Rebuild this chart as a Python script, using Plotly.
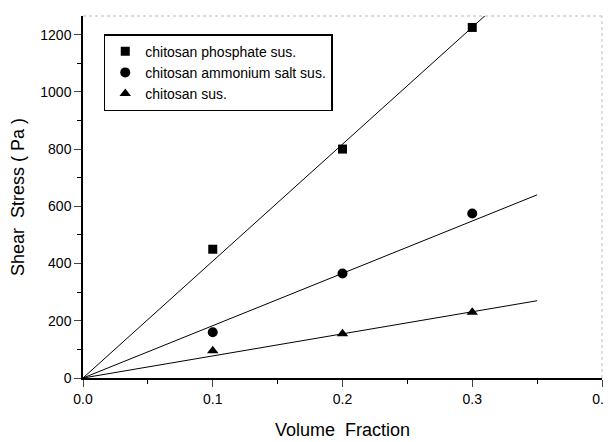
import plotly.graph_objects as go

volume_fraction = [0.1, 0.2, 0.3]
phosphate = [450, 800, 1225]
ammonium = [160, 365, 575]
chitosan = [95, 155, 230]

# fitted lines (start / end points)
fit_x = [0.0, 0.35]
phosphate_fit = [0, 1430]
ammonium_fit = [0, 640]
chitosan_fit = [0, 270]

names = ["chitosan phosphate sus.", "chitosan ammonium salt sus.", "chitosan sus."]
symbols = ["square", "circle", "triangle-up"]
sizes = [9, 10, 10]

fig = go.Figure()
for fy in [phosphate_fit, ammonium_fit, chitosan_fit]:
    fig.add_trace(go.Scatter(x=fit_x, y=fy, mode="lines", line=dict(color="black", width=1),
                             showlegend=False, hoverinfo="skip"))
for name, ys, sym, sz in zip(names, [phosphate, ammonium, chitosan], symbols, sizes):
    fig.add_trace(go.Scatter(x=volume_fraction, y=ys, mode="markers", name=name,
                             marker=dict(symbol=sym, size=sz, color="black")))

font = "Liberation Sans, Arial, sans-serif"
fig.update_layout(
    width=604, height=434,
    margin=dict(l=75, r=10, t=8, b=64, autoexpand=False),
    plot_bgcolor="white", paper_bgcolor="white",
    font=dict(family=font, color="black", size=14),
    showlegend=True,
    legend=dict(x=0.04, y=0.95, xanchor="left", yanchor="top",
                bordercolor="black", borderwidth=1.5, bgcolor="white",
                font=dict(size=14), itemwidth=30, tracegroupgap=0),
    xaxis=dict(range=[0, 0.4], dtick=0.1, tickformat=".1f", showgrid=False, zeroline=False,
               automargin=False,
               showline=True, linecolor="black", linewidth=1.5,
               ticks="outside", ticklen=7, tickwidth=1,
               minor=dict(ticks="outside", ticklen=4, dtick=0.05, tickcolor="black"),
               title=dict(text="Volume  Fraction", font=dict(size=18), standoff=18)),
    yaxis=dict(range=[0, 1265], dtick=200, showgrid=False, zeroline=False,
               automargin=False,
               showline=True, linecolor="black", linewidth=1.5,
               ticks="outside", ticklen=7, tickwidth=1,
               minor=dict(ticks="outside", ticklen=4, dtick=100, tickcolor="black"),
               title=dict(text="Shear  Stress ( Pa )", font=dict(size=18), standoff=15)),
)
# faint dotted top and right frame
fig.add_shape(type="line", xref="paper", yref="paper", x0=0, x1=1, y0=1, y1=1,
              line=dict(color="#bbbbbb", width=1, dash="dot"))
fig.add_shape(type="line", xref="paper", yref="paper", x0=1, x1=1, y0=0, y1=1,
              line=dict(color="#bbbbbb", width=1, dash="dot"))

fig.write_html("out.html")
